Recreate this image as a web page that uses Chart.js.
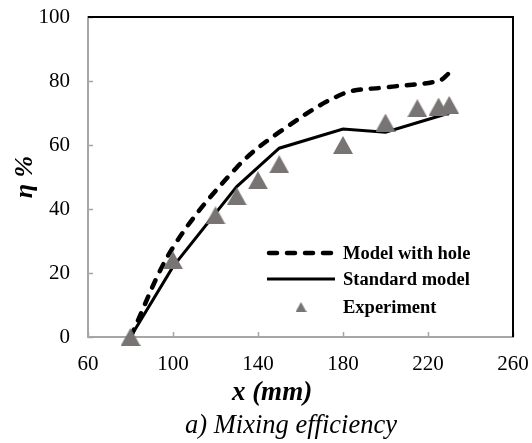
<!DOCTYPE html>
<html>
<head>
<meta charset="utf-8">
<script src="https://cdn.jsdelivr.net/npm/chart.js@4.4.1/dist/chart.umd.min.js"></script>
<style>
  html, body { margin: 0; padding: 0; background: #fff; }
</style>
</head>
<body>
<canvas id="chart" width="532" height="443"></canvas>
<script>
// series data
const holeX = [80, 100, 130, 150, 180, 200, 225, 230];
const holeY = [0, 28, 53, 64, 76, 78, 80, 82.5];
const stdX = [80, 100, 130, 150, 180, 200, 225, 230];
const stdY = [0, 22, 47, 59, 65, 64, 69, 70];
const expX = [80, 100, 120, 130, 140, 150, 180, 200, 215, 225, 230];
const expY = [0, 24, 38, 44, 49, 54, 60, 67, 71.5, 72, 72.5];
const seriesNames = ["Model with hole", "Standard model", "Experiment"];
const xTicks = [60, 100, 140, 180, 220, 260];
const yTicks = [0, 20, 40, 60, 80, 100];
const xTitle = "x (mm)";
const caption = "a) Mixing efficiency";

const SERIF = '"Liberation Serif", "Times New Roman", serif';
const GREY = "#787474";
const AXIS = "#a6a6a6";

// triangle marker drawn once on a small canvas (centred like excel markers)
function triangle(w, h) {
    const c = document.createElement("canvas");
    c.width = w; c.height = h;
    const g = c.getContext("2d");
    g.fillStyle = GREY;
    g.beginPath();
    g.moveTo(w / 2, 0);
    g.lineTo(w, h);
    g.lineTo(0, h);
    g.closePath();
    g.fill();
    return c;
}
const bigTri = triangle(20, 18);
const smallTri = triangle(11, 10);

const toPts = (xs, ys) => xs.map((v, i) => ({x: v, y: ys[i]}));

// top/right black frame + inward grey tick marks
const framePlugin = {
    id: "frame",
    beforeDatasetsDraw(chart) {
        const {ctx, chartArea: a, scales: {x, y}} = chart;
        ctx.save();
        ctx.strokeStyle = AXIS;
        ctx.lineWidth = 1.5;
        x.ticks.forEach(t => {
            const px = Math.round(x.getPixelForValue(t.value)) + 0.5;
            ctx.beginPath();
            ctx.moveTo(px, a.bottom);
            ctx.lineTo(px, a.bottom - 5);
            ctx.stroke();
        });
        y.ticks.forEach(t => {
            const py = Math.round(y.getPixelForValue(t.value)) + 0.5;
            ctx.beginPath();
            ctx.moveTo(a.left, py);
            ctx.lineTo(a.left + 5, py);
            ctx.stroke();
        });
        ctx.strokeStyle = "#000";
        ctx.lineWidth = 2;
        ctx.beginPath();
        ctx.moveTo(a.left, a.top);
        ctx.lineTo(a.right, a.top);
        ctx.lineTo(a.right, a.bottom);
        ctx.stroke();
        ctx.restore();
    }
};

// legend inside the plot (bottom right) + x title and caption under the axis
const legendPlugin = {
    id: "innerLegend",
    afterDatasetsDraw(chart) {
        const {ctx, chartArea: a} = chart;
        const x0 = a.right - 246, x1 = a.right - 178, tx = a.right - 170;
        const rows = [a.bottom - 84, a.bottom - 58, a.bottom - 30];
        ctx.save();
        ctx.strokeStyle = "#000";
        ctx.lineCap = "round";
        ctx.lineWidth = 4.5;
        ctx.setLineDash([8, 10]);
        ctx.beginPath();
        ctx.moveTo(x0 + 2, rows[0]);
        ctx.lineTo(x1, rows[0]);
        ctx.stroke();
        ctx.setLineDash([]);
        ctx.lineCap = "butt";
        ctx.lineWidth = 3;
        ctx.beginPath();
        ctx.moveTo(x0, rows[1]);
        ctx.lineTo(x1, rows[1]);
        ctx.stroke();
        ctx.drawImage(smallTri, (x0 + x1) / 2 - 5.5, rows[2] - 5);
        ctx.fillStyle = "#000";
        ctx.font = "bold 18.5px " + SERIF;
        ctx.textBaseline = "middle";
        seriesNames.forEach((n, i) => ctx.fillText(n, tx, rows[i] + 1));

        ctx.textAlign = "center";
        ctx.font = "italic bold 27px " + SERIF;
        ctx.fillText(xTitle, a.left + 184, a.bottom + 56);
        ctx.font = "italic 26.5px " + SERIF;
        ctx.fillText(caption, a.left + 203, a.bottom + 89);
        ctx.restore();
    }
};

new Chart(document.getElementById("chart"), {
    type: "scatter",
    data: {
        datasets: [
            {
                label: seriesNames[2],
                data: toPts(expX, expY),
                pointStyle: bigTri,
                pointRadius: 10,
                showLine: false,
                clip: false,
                order: 0
            },
            {
                label: seriesNames[0],
                data: toPts(holeX, holeY),
                showLine: true,
                borderColor: "#000",
                borderWidth: 4.5,
                borderDash: [8, 10],
                borderCapStyle: "round",
                tension: 0.35,
                pointRadius: 0,
                order: 1
            },
            {
                label: seriesNames[1],
                data: toPts(stdX, stdY),
                showLine: true,
                borderColor: "#000",
                borderWidth: 3,
                tension: 0,
                pointRadius: 0,
                order: 2
            }
        ]
    },
    options: {
        responsive: false,
        animation: false,
        devicePixelRatio: 1,
        layout: {padding: {left: 0, right: 19, top: 17, bottom: 0}},
        plugins: {
            legend: {display: false},
            tooltip: {enabled: false},
            title: {display: false}
        },
        scales: {
            x: {
                type: "linear",
                min: 60,
                max: 260,
                afterBuildTicks: s => { s.ticks = xTicks.map(v => ({value: v})); },
                afterFit: s => { s.height = 106; s.paddingLeft = 0; s.paddingRight = 0; },
                grid: {drawOnChartArea: false, drawTicks: false},
                border: {color: AXIS, width: 2},
                ticks: {color: "#000", padding: 15, font: {family: SERIF, size: 21}}
            },
            y: {
                min: 0,
                max: 100,
                afterBuildTicks: s => { s.ticks = yTicks.map(v => ({value: v})); },
                afterFit: s => { s.width = 88; s.paddingTop = 0; s.paddingBottom = 0; },
                grid: {drawOnChartArea: false, drawTicks: false},
                border: {color: AXIS, width: 2},
                ticks: {color: "#000", padding: 18, font: {family: SERIF, size: 21}},
                title: {
                    display: true,
                    text: "η %",
                    color: "#000",
                    font: {family: SERIF, size: 26, style: "italic", weight: "bold", lineHeight: 1.2},
                    padding: {top: 10, bottom: 0}
                }
            }
        }
    },
    plugins: [framePlugin, legendPlugin]
});
</script>
</body>
</html>
